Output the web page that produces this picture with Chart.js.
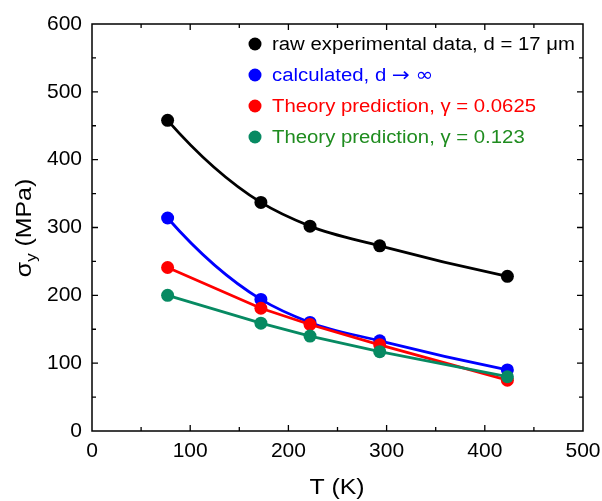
<!DOCTYPE html>
<html><head><meta charset="utf-8">
<script src="https://cdn.jsdelivr.net/npm/chart.js@4.4.1/dist/chart.umd.min.js"></script>
<style>html,body{margin:0;padding:0;background:#fff;}#wrap{width:602px;height:501px;}</style>
</head><body><div id="wrap"><canvas id="c" width="602" height="501"></canvas></div>
<script>
const temps = [77, 172, 222, 293, 423];
const rawExp = [458, 337, 302, 273, 228];
const calcInf = [314, 194, 160, 133, 90];
const theory0625 = [241, 181, 157, 127, 75];
const theory123 = [200, 159, 140, 117, 80];
const xTicks = [0, 100, 200, 300, 400, 500];
const yTicks = [0, 100, 200, 300, 400, 500, 600];
const legendLabels = ['raw experimental data, d = 17 \u03bcm', 'calculated, d \u2192 \u221e', 'Theory prediction, \u03b3 = 0.0625', 'Theory prediction, \u03b3 = 0.123'];
const markerColors = ['#000000', '#0000ff', '#ff0000', '#078a62'];
const textColors = ['#000000', '#0000ff', '#ff0000', '#1f8c1f'];

const FONT = '"Liberation Sans", Arial, sans-serif';
const SYMFONT = '"DejaVu Sans", sans-serif';
const STRETCH = 1.13;
const LINE_W = 2.8;
const pts = arr => temps.map((t, i) => ({x: t, y: arr[i]}));
function ds(label, arr, color, smooth, order) {
  return {label, data: pts(arr), showLine: !smooth, smoothCurve: smooth, order,
    borderColor: color, backgroundColor: color,
    borderWidth: LINE_W, pointRadius: 6.5, pointHoverRadius: 6.5, pointBorderWidth: 0, tension: 0};
}
function stretchText(ctx, txt, x, y, align) {
  const w = ctx.measureText(txt).width * STRETCH;
  let x0 = x;
  if (align === 'center') x0 = x - w / 2;
  ctx.save();
  ctx.translate(x0, y);
  ctx.scale(STRETCH, 1);
  ctx.textAlign = 'left';
  ctx.fillText(txt, 0, 0);
  ctx.restore();
  return w;
}
// legend text: arrow and infinity drawn a little larger, as in the source figure
function legendText(ctx, txt, x, y) {
  const parts = txt.split(/([\u2192\u221e])/);
  let cx = x;
  parts.forEach(part => {
    if (!part) return;
    if (part === '\u2192' || part === '\u221e') {
      ctx.font = '19px ' + SYMFONT;
      cx += stretchText(ctx, part, cx, y, 'left');
    } else {
      ctx.font = '18px ' + FONT;
      cx += stretchText(ctx, part, cx, y, 'left');
    }
  });
}
// smooth curve through the library-placed points (parabolic tangents, cubic Hermite)
function drawSmooth(ctx, p, color) {
  const n = p.length;
  const s = [];
  for (let i = 0; i < n - 1; i++) s.push((p[i + 1].y - p[i].y) / (p[i + 1].x - p[i].x));
  const h = i => p[i + 1].x - p[i].x;
  const m = new Array(n);
  for (let i = 1; i < n - 1; i++) m[i] = (s[i - 1] * h(i) + s[i] * h(i - 1)) / (h(i - 1) + h(i));
  m[0] = s[0] + (s[0] - s[1]) * h(0) / (h(0) + h(1));
  m[n - 1] = s[n - 2] + (s[n - 2] - s[n - 3]) * h(n - 2) / (h(n - 3) + h(n - 2));
  ctx.save();
  ctx.strokeStyle = color; ctx.lineWidth = LINE_W; ctx.lineJoin = 'round';
  ctx.beginPath();
  ctx.moveTo(p[0].x, p[0].y);
  for (let i = 0; i < n - 1; i++) {
    const d = h(i) / 3;
    ctx.bezierCurveTo(p[i].x + d, p[i].y + m[i] * d, p[i + 1].x - d, p[i + 1].y - m[i + 1] * d, p[i + 1].x, p[i + 1].y);
  }
  ctx.stroke();
  ctx.restore();
}

const framePlugin = {
  id: 'frame',
  beforeDatasetsDraw(chart) {
    const ctx = chart.ctx, a = chart.chartArea, xs = chart.scales.x, ys = chart.scales.y;
    ctx.save();
    ctx.strokeStyle = '#000'; ctx.lineWidth = 1.5;
    ctx.strokeRect(a.left, a.top, a.right - a.left, a.bottom - a.top);
    ctx.lineWidth = 1.3;
    ctx.beginPath();
    for (let v = 50; v < 500; v += 50) {
      const px = xs.getPixelForValue(v), len = (v % 100 === 0) ? 6 : 4;
      ctx.moveTo(px, a.bottom); ctx.lineTo(px, a.bottom - len);
      ctx.moveTo(px, a.top); ctx.lineTo(px, a.top + len);
    }
    for (let v = 50; v < 600; v += 50) {
      const py = ys.getPixelForValue(v), len = (v % 100 === 0) ? 6 : 4;
      ctx.moveTo(a.left, py); ctx.lineTo(a.left + len, py);
      ctx.moveTo(a.right, py); ctx.lineTo(a.right - len, py);
    }
    ctx.stroke();
    ctx.restore();
    chart.data.datasets.forEach((d, i) => {
      if (!d.smoothCurve) return;
      const meta = chart.getDatasetMeta(i);
      drawSmooth(ctx, meta.data.map(e => ({x: e.x, y: e.y})), d.borderColor);
    });
  },
  afterDraw(chart) {
    const ctx = chart.ctx;
    ctx.save();
    const rows = [44, 75, 106, 137];
    ctx.textBaseline = 'middle';
    legendLabels.forEach((lab, i) => {
      ctx.fillStyle = markerColors[i];
      ctx.beginPath(); ctx.arc(255, rows[i], 6.5, 0, Math.PI * 2); ctx.fill();
      ctx.fillStyle = textColors[i];
      legendText(ctx, lab, 272, rows[i] + 1);
    });
    ctx.fillStyle = '#000';
    ctx.font = '22px ' + FONT;
    stretchText(ctx, 'T (K)', 337, 488, 'center');
    ctx.translate(25, 228);
    ctx.rotate(-Math.PI / 2);
    const main1 = '\u03c3', sub = 'y', main2 = ' (MPa)';
    ctx.font = '22px ' + FONT;
    const w1 = ctx.measureText(main1).width * STRETCH, w3 = ctx.measureText(main2).width * STRETCH;
    ctx.font = '15px ' + FONT;
    const w2 = ctx.measureText(sub).width * STRETCH;
    const x0 = -(w1 + w2 + w3) / 2;
    ctx.font = '22px ' + FONT;
    stretchText(ctx, main1, x0, 0, 'left');
    ctx.font = '15px ' + FONT;
    stretchText(ctx, sub, x0 + w1, 7, 'left');
    ctx.font = '22px ' + FONT;
    stretchText(ctx, main2, x0 + w1 + w2, 0, 'left');
    ctx.restore();
  }
};

new Chart(document.getElementById('c'), {
  type: 'scatter',
  data: {datasets: [
    ds(legendLabels[0], rawExp, markerColors[0], true, 4),
    ds(legendLabels[1], calcInf, markerColors[1], true, 3),
    ds(legendLabels[2], theory0625, markerColors[2], false, 2),
    ds(legendLabels[3], theory123, markerColors[3], false, 1)
  ]},
  options: {
    responsive: false, animation: false, devicePixelRatio: 1,
    layout: {padding: {top: 24, right: 19, left: 0, bottom: 0}},
    plugins: {legend: {display: false}, tooltip: {enabled: false}},
    scales: {
      x: {type: 'linear', min: 0, max: 500,
        afterBuildTicks: s => { s.ticks = xTicks.map(v => ({value: v})); },
        afterFit: s => { s.height = 70; s.paddingRight = 0; s.paddingLeft = 0; },
        grid: {display: false, drawTicks: false, tickLength: 0}, border: {display: false},
        ticks: {color: '#000', font: {family: FONT, size: 21}, padding: 8, maxRotation: 0}},
      y: {type: 'linear', min: 0, max: 600,
        afterBuildTicks: s => { s.ticks = yTicks.map(v => ({value: v})); },
        afterFit: s => { s.width = 92; s.paddingTop = 0; s.paddingBottom = 0; },
        grid: {display: false, drawTicks: false, tickLength: 0}, border: {display: false},
        ticks: {color: '#000', font: {family: FONT, size: 21}, padding: 10}}
    }
  },
  plugins: [framePlugin]
});
</script></body></html>
